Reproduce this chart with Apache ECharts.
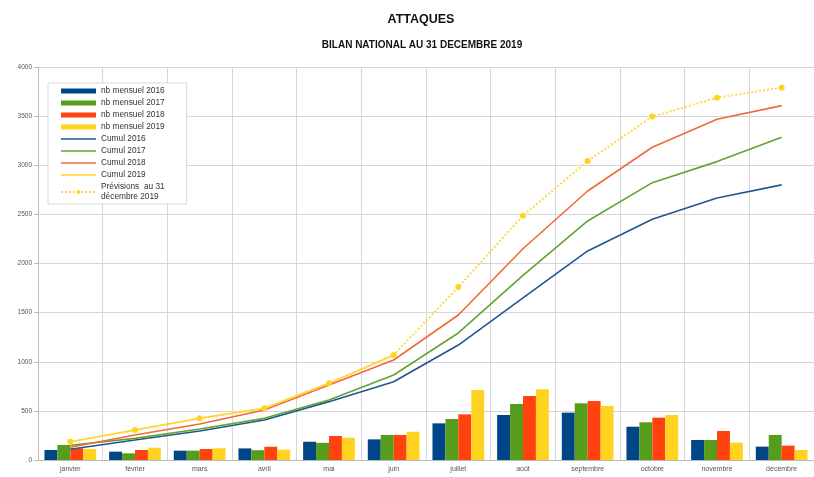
<!DOCTYPE html>
<html>
<head>
<meta charset="utf-8">
<script src="https://cdn.jsdelivr.net/npm/echarts@6/dist/echarts.min.js"></script>
<style>
  html, body { margin: 0; padding: 0; background: #fff; }
  #chart { width: 814px; height: 477px; }
</style>
</head>
<body>
<div id="chart"></div>
<script>
const months = ['janvier', 'février', 'mars', 'avril', 'mai', 'juin', 'juillet', 'août', 'septembre', 'octobre', 'novembre', 'décembre']
const yTicks = [0, 500, 1000, 1500, 2000, 2500, 3000, 3500, 4000]

// nb mensuel
const mensuel2016 = [102, 85, 95, 118, 186, 210, 373, 458, 482, 339, 204, 136]
const mensuel2017 = [153, 68, 95, 100, 175, 255, 417, 570, 577, 384, 204, 255]
const mensuel2018 = [119, 102, 112, 135, 244, 255, 465, 651, 600, 431, 295, 146]
const mensuel2019 = [112, 125, 119, 105, 227, 288, 712, 720, 550, 458, 176, 102]

// cumuls
const cumul2016 = [110, 204, 295, 407, 594, 797, 1170, 1650, 2128, 2450, 2667, 2800]
const cumul2017 = [150, 220, 316, 424, 611, 865, 1293, 1880, 2433, 2823, 3037, 3285]
const cumul2018 = [130, 254, 366, 509, 763, 1018, 1476, 2150, 2738, 3183, 3468, 3607]
const cumul2019 = [186, 305, 424, 526, 780, 1069, null, null, null, null, null, null]
const prevision = [186, 305, 424, 526, 780, 1069, 1760, 2487, 3044, 3495, 3688, 3790]

const PREV_NAME = 'Prévisions  au 31\ndécembre 2019'
const BLUE = '#004586', GREEN = '#579d1c', ORANGE = '#ff420e', YELLOW = '#ffd320'
const FONT = 'Liberation Sans'
const thinIcon = 'path://M0,0h40v1.6h-40z'

const chart = echarts.init(document.getElementById('chart'))

const barSerie = (name, data, color) => ({
  name, type: 'bar', data,
  barGap: '0%', barCategoryGap: '20%',
  itemStyle: { color }
})
const lineSerie = (name, data, color) => ({
  name, type: 'line', data,
  showSymbol: false, symbol: 'none',
  lineStyle: { color, width: 1.6 },
  itemStyle: { color }
})

chart.setOption({
  backgroundColor: '#fff',
  animation: false,
  title: [
    {
      text: 'ATTAQUES', left: 416, top: 8, textAlign: 'center',
      textStyle: { fontFamily: FONT, fontSize: 12.5, fontWeight: 'bold', color: '#111' }
    },
    {
      text: 'BILAN NATIONAL AU 31 DECEMBRE 2019', left: 417, top: 35, textAlign: 'center',
      textStyle: { fontFamily: FONT, fontSize: 10, fontWeight: 'bold', color: '#111' }
    }
  ],
  legend: {
    orient: 'vertical',
    left: 48, top: 83,
    padding: [3, 22, 2, 12],
    itemWidth: 35, itemHeight: 5, itemGap: 2,
    backgroundColor: '#fff',
    borderColor: '#d8d8d8', borderWidth: 1,
    textStyle: { fontFamily: FONT, fontSize: 8.3, color: '#333', lineHeight: 10 },
    data: [
      { name: 'nb mensuel 2016', icon: 'rect' },
      { name: 'nb mensuel 2017', icon: 'rect' },
      { name: 'nb mensuel 2018', icon: 'rect' },
      { name: 'nb mensuel 2019', icon: 'rect' },
      { name: 'Cumul 2016', icon: thinIcon },
      { name: 'Cumul 2017', icon: thinIcon },
      { name: 'Cumul 2018', icon: thinIcon },
      { name: 'Cumul 2019', icon: thinIcon },
      { name: PREV_NAME }
    ]
  },
  grid: { left: 38, top: 67, width: 781, height: 393 },
  xAxis: {
    type: 'category',
    data: months,
    axisLine: { show: true, lineStyle: { color: '#bbb' } },
    axisTick: { show: false },
    axisLabel: { fontFamily: FONT, fontSize: 7, color: '#555', margin: 6 },
    splitLine: { show: true, interval: 0, lineStyle: { color: '#d6d6d6' } }
  },
  yAxis: {
    type: 'value',
    min: yTicks[0], max: yTicks[yTicks.length - 1], interval: 500,
    axisLine: { show: true, lineStyle: { color: '#bbb' } },
    axisTick: { show: true, length: 4, lineStyle: { color: '#bbb' } },
    axisLabel: { fontFamily: FONT, fontSize: 6.5, color: '#555', margin: 6, formatter: v => String(v) },
    splitLine: { lineStyle: { color: '#d6d6d6' } }
  },
  series: [
    barSerie('nb mensuel 2016', mensuel2016, BLUE),
    barSerie('nb mensuel 2017', mensuel2017, GREEN),
    barSerie('nb mensuel 2018', mensuel2018, ORANGE),
    barSerie('nb mensuel 2019', mensuel2019, YELLOW),
    lineSerie('Cumul 2016', cumul2016, '#1f5790'),
    lineSerie('Cumul 2017', cumul2017, '#62a432'),
    lineSerie('Cumul 2018', cumul2018, '#f06a38'),
    lineSerie('Cumul 2019', cumul2019, '#ffd320'),
    {
      name: PREV_NAME, type: 'line', data: prevision,
      symbol: 'circle', symbolSize: 6,
      lineStyle: { color: '#ffd84a', width: 2, type: 'dotted' },
      itemStyle: { color: '#ffd320' }
    }
  ]
})
</script>
</body>
</html>
